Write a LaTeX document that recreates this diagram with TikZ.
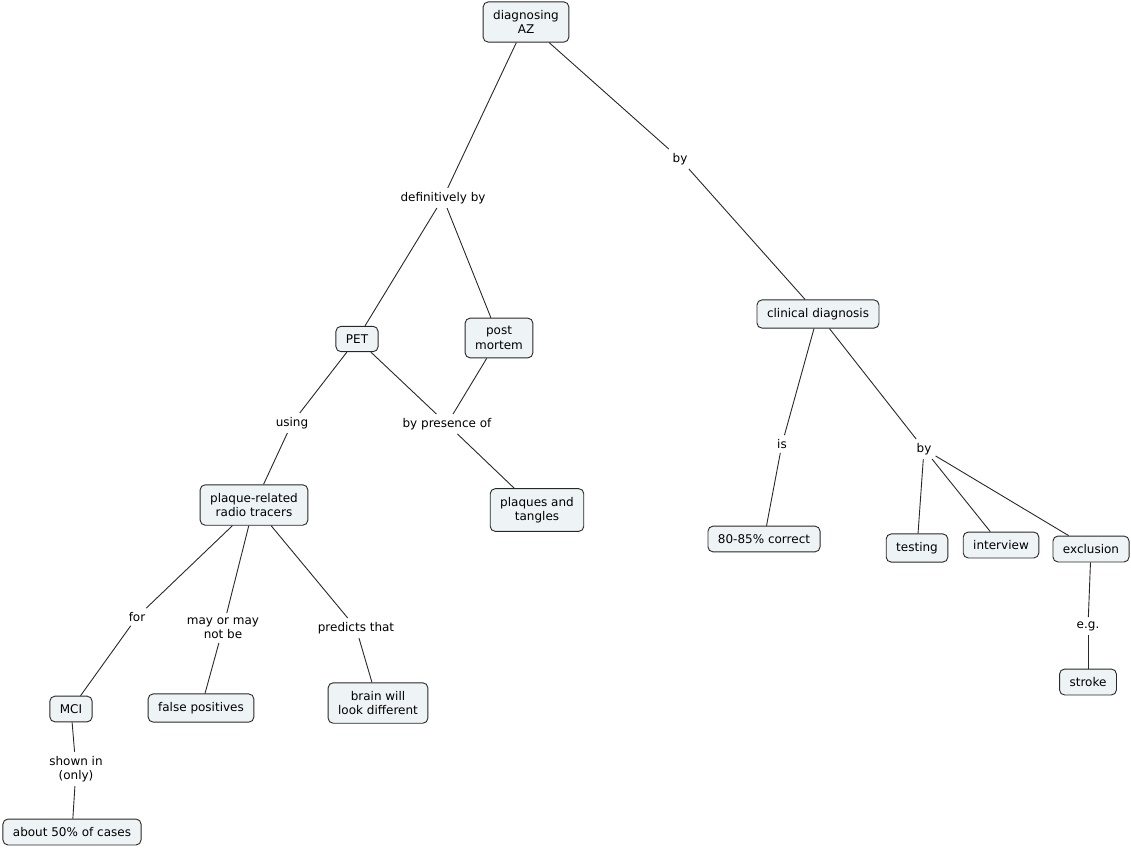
\documentclass[tikz,border=0pt]{standalone}
\usepackage{fontspec}
\setmainfont{DejaVu Sans}
\definecolor{cptfill}{RGB}{238,244,246}
\definecolor{cptline}{RGB}{40,40,40}
\begin{document}
\begin{tikzpicture}[x=1pt,y=-1pt, every node/.style={font=\fontsize{12}{14.5}\selectfont},
  cpt/.style={draw=cptline,fill=cptfill,rounded corners=5pt,align=center,inner xsep=10pt,inner ysep=8.3pt,line width=0.9pt},
  lnk/.style={align=center,inner sep=4pt},
  con/.style={cptline,line width=0.9pt}]
\useasboundingbox (0,0) rectangle (1131,847);
% concepts
\node[cpt] (az) at (526,22) {diagnosing\\AZ};
\node[cpt] (pet) at (357,339) {PET};
\node[cpt] (pm) at (499,338) {post\\mortem};
\node[cpt] (cd) at (818,314) {clinical diagnosis};
\node[cpt] (prt) at (254,505) {plaque-related\\radio tracers};
\node[cpt] (pt) at (537,510) {plaques and\\tangles};
\node[cpt] (pct) at (764,539) {80-85\% correct};
\node[cpt] (tst) at (917,548) {testing};
\node[cpt] (itv) at (1001,545) {interview};
\node[cpt] (exc) at (1091,549) {exclusion};
\node[cpt] (stk) at (1088,682) {stroke};
\node[cpt] (mci) at (71,709) {MCI};
\node[cpt] (fp) at (201,708) {false positives};
\node[cpt] (brn) at (378,703) {brain will\\look different};
\node[cpt] (half) at (72,832) {about 50\% of cases};
% linking phrases
\node[lnk] (defby) at (443,198) {definitively by};
\node[lnk] (by1) at (680,159) {by};
\node[lnk] (using) at (292,423) {using};
\node[lnk] (bypres) at (447,424) {by presence of};
\node[lnk] (is) at (782,444) {is};
\node[lnk] (by2) at (924,449) {by};
\node[lnk] (eg) at (1088,626) {e.g.};
\node[lnk] (for) at (137,617) {for};
\node[lnk] (maybe) at (223,628) {may or may\\not be};
\node[lnk] (pred) at (356,628) {predicts that};
\node[lnk] (shown) at (76,769) {shown in\\(only)};
% connectors
\draw[con] (az) -- (defby);
\draw[con] (az) -- (by1);
\draw[con] (defby) -- (pet);
\draw[con] (defby) -- (pm);
\draw[con] (by1) -- (cd);
\draw[con] (pet) -- (using);
\draw[con] (pet) -- (bypres);
\draw[con] (pm) -- (bypres);
\draw[con] (bypres) -- (pt);
\draw[con] (using) -- (prt);
\draw[con] (prt) -- (for);
\draw[con] (prt) -- (maybe);
\draw[con] (prt) -- (pred);
\draw[con] (for) -- (mci);
\draw[con] (maybe) -- (fp);
\draw[con] (pred) -- (brn);
\draw[con] (mci) -- (shown);
\draw[con] (shown) -- (half);
\draw[con] (cd) -- (is);
\draw[con] (cd) -- (by2);
\draw[con] (is) -- (pct);
\draw[con] (by2) -- (tst);
\draw[con] (by2) -- (itv);
\draw[con] (by2) -- (exc);
\draw[con] (exc) -- (eg);
\draw[con] (eg) -- (stk);
\end{tikzpicture}
\end{document}
